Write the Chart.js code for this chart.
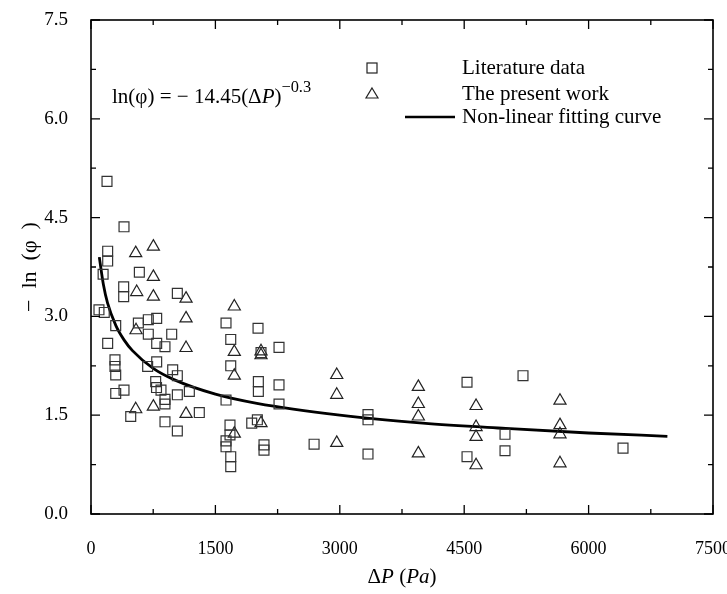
<!DOCTYPE html>
<html>
<head>
<meta charset="utf-8">
<script src="https://cdn.jsdelivr.net/npm/chart.js@4/dist/chart.umd.min.js"></script>
<style>
  html, body { margin: 0; padding: 0; background: #fff; }
  #wrap { width: 727px; height: 594px; }
</style>
</head>
<body>
<div id="wrap"><canvas id="chart" width="727" height="594"></canvas></div>
<script>
// Literature data (squares)
const litX = [193, 398, 201, 201, 146, 583, 394, 394, 1041, 96, 160, 298, 691, 792, 571, 691, 973, 792, 892, 201,
  289, 289, 298, 298, 398, 683, 792, 780, 790, 844, 892, 892, 892, 479, 1041, 985, 1041, 1041, 1186, 1306,
  1628, 1685, 1685, 1628, 1676, 1676, 1628, 1628, 1685, 1685, 1938, 2006, 2014, 2050, 2018, 2018, 2086, 2086,
  2267, 2267, 2267, 2690, 3340, 3340, 3340, 4534, 4534, 4992, 4992, 5209, 6415];
const litY = [5.05, 4.36, 3.99, 3.84, 3.64, 3.67, 3.45, 3.30, 3.35, 3.10, 3.06, 2.86, 2.95, 2.97, 2.90, 2.73, 2.73, 2.59, 2.54, 2.59,
  2.34, 2.24, 2.11, 1.83, 1.88, 2.24, 2.31, 2.01, 1.92, 1.88, 1.74, 1.67, 1.40, 1.48, 1.26, 2.19, 2.10, 1.81, 1.86, 1.54,
  2.90, 2.65, 2.25, 1.73, 1.35, 1.20, 1.11, 1.02, 0.87, 0.72, 1.38, 1.43, 2.82, 2.45, 2.01, 1.86, 1.05, 0.97,
  2.53, 1.96, 1.67, 1.06, 1.51, 1.43, 0.91, 2.00, 0.87, 1.21, 0.96, 2.10, 1.00];

// The present work (triangles)
const presX = [539, 752, 752, 551, 752, 543, 1146, 1146, 1146, 1728, 1728, 1728, 1728, 1146, 539, 752,
  2050, 2050, 2050, 2963, 2963, 2963, 3947, 3947, 3947, 3947, 4643, 4643, 4643, 4643, 5655, 5655, 5655, 5655];
const presY = [3.96, 4.06, 3.60, 3.37, 3.30, 2.79, 3.27, 2.97, 2.52, 3.15, 2.46, 2.10, 1.22, 1.52, 1.59, 1.63,
  2.47, 2.41, 1.38, 2.11, 1.81, 1.08, 1.93, 1.67, 1.48, 0.92, 1.64, 1.32, 1.17, 0.74, 1.72, 1.35, 1.21, 0.77];

// Non-linear fitting curve
const fitX = [100, 150, 200, 300, 400, 500, 750, 1000, 1500, 2000, 3000, 4000, 5000, 6000, 6950];
const fitY = [3.90, 3.48, 3.20, 2.86, 2.64, 2.48, 2.21, 2.04, 1.82, 1.68, 1.50, 1.38, 1.30, 1.23, 1.18];

// Axis ticks
const xTicks = [0, 1500, 3000, 4500, 6000, 7500];
const yTicks = [0.0, 1.5, 3.0, 4.5, 6.0, 7.5];

const serif = '"Liberation Serif", "Times New Roman", serif';

function toPoints(xs, ys) {
  return xs.map((x, i) => ({ x: x, y: ys[i] }));
}

// Draw a run of text pieces; each piece may be italic or superscript
function drawRuns(ctx, runs, x, y, size) {
  let cx = x;
  runs.forEach(r => {
    const s = r.sup ? size * 0.78 : size;
    ctx.font = (r.italic ? 'italic ' : '') + s + 'px ' + serif;
    ctx.fillText(r.t, cx, r.sup ? y - size * 0.42 : y);
    cx += ctx.measureText(r.t).width;
  });
  return cx;
}

function runsWidth(ctx, runs, size) {
  let w = 0;
  runs.forEach(r => {
    const s = r.sup ? size * 0.78 : size;
    ctx.font = (r.italic ? 'italic ' : '') + s + 'px ' + serif;
    w += ctx.measureText(r.t).width;
  });
  return w;
}

const framePlugin = {
  id: 'frame',
  afterDraw(chart) {
    const ctx = chart.ctx;
    const a = chart.chartArea;
    const xs = chart.scales.x;
    const ys = chart.scales.y;
    ctx.save();
    ctx.strokeStyle = '#000';
    ctx.fillStyle = '#000';
    ctx.lineWidth = 1.6;
    ctx.strokeRect(a.left, a.top, a.right - a.left, a.bottom - a.top);

    // inward ticks on all four sides
    ctx.lineWidth = 1.3;
    ctx.beginPath();
    for (let v = 0; v <= 7500; v += 750) {
      const px = xs.getPixelForValue(v);
      const len = (v % 1500 === 0) ? 9 : 5;
      ctx.moveTo(px, a.bottom); ctx.lineTo(px, a.bottom - len);
      ctx.moveTo(px, a.top); ctx.lineTo(px, a.top + len);
    }
    for (let k = 0; k <= 10; k++) {
      const py = ys.getPixelForValue(k * 0.75);
      const len = (k % 2 === 0) ? 9 : 5;
      ctx.moveTo(a.left, py); ctx.lineTo(a.left + len, py);
      ctx.moveTo(a.right, py); ctx.lineTo(a.right - len, py);
    }
    ctx.stroke();

    // axis titles
    ctx.textBaseline = 'middle';
    ctx.textAlign = 'left';
    const xRuns = [{ t: 'Δ' }, { t: 'P', italic: true }, { t: ' (' }, { t: 'Pa', italic: true }, { t: ')' }];
    const xw = runsWidth(ctx, xRuns, 21);
    drawRuns(ctx, xRuns, (a.left + a.right) / 2 - xw / 2, 577, 21);

    ctx.save();
    ctx.translate(30, (a.top + a.bottom) / 2);
    ctx.rotate(-Math.PI / 2);
    const yRuns = [{ t: '−  ln  (φ  )' }];
    const yw = runsWidth(ctx, yRuns, 22);
    drawRuns(ctx, yRuns, -yw / 2, 0, 22);
    ctx.restore();

    // equation annotation
    drawRuns(ctx, [{ t: 'ln(φ) = − 14.45(Δ' }, { t: 'P', italic: true }, { t: ')' }, { t: '−0.3', sup: true }], 112, 97, 21);

    // legend
    ctx.lineWidth = 1.2;
    ctx.strokeStyle = '#222';
    ctx.strokeRect(367, 63, 10, 10);
    ctx.beginPath();
    ctx.moveTo(372, 88); ctx.lineTo(378, 98); ctx.lineTo(366, 98); ctx.closePath();
    ctx.stroke();
    ctx.lineWidth = 2.5;
    ctx.strokeStyle = '#000';
    ctx.beginPath();
    ctx.moveTo(405, 117); ctx.lineTo(455, 117);
    ctx.stroke();
    ctx.font = '21px ' + serif;
    ctx.fillText('Literature data', 462, 68);
    ctx.fillText('The present work', 462, 94);
    ctx.fillText('Non-linear fitting curve', 462, 117);
    ctx.restore();
  }
};

new Chart(document.getElementById('chart'), {
  type: 'scatter',
  data: {
    datasets: [
      {
        label: 'Literature data',
        data: toPoints(litX, litY),
        pointStyle: 'rect',
        pointRadius: 7,
        backgroundColor: 'rgba(0,0,0,0)',
        borderColor: '#333',
        borderWidth: 1.2
      },
      {
        label: 'The present work',
        data: toPoints(presX, presY),
        pointStyle: 'triangle',
        pointRadius: 7,
        backgroundColor: 'rgba(0,0,0,0)',
        borderColor: '#222',
        borderWidth: 1.2
      },
      {
        label: 'Non-linear fitting curve',
        type: 'line',
        data: toPoints(fitX, fitY),
        showLine: true,
        pointRadius: 0,
        borderColor: '#000',
        borderWidth: 2.8,
        fill: false,
        cubicInterpolationMode: 'monotone'
      }
    ]
  },
  options: {
    responsive: false,
    animation: false,
    events: [],
    layout: { padding: { left: 0, right: 14, top: 20, bottom: 0 } },
    plugins: { legend: { display: false }, tooltip: { enabled: false } },
    scales: {
      x: {
        type: 'linear',
        min: 0,
        max: 7500,
        afterBuildTicks: s => { s.ticks = xTicks.map(v => ({ value: v })); },
        afterFit: s => { s.height = 80; s.paddingLeft = 0; s.paddingRight = 0; },
        grid: { display: false, drawTicks: false },
        border: { display: false },
        ticks: { color: '#000', padding: 24, font: { family: serif, size: 18 }, callback: v => String(v) }
      },
      y: {
        type: 'linear',
        min: 0,
        max: 7.5,
        afterBuildTicks: s => { s.ticks = yTicks.map(v => ({ value: v })); },
        afterFit: s => { s.width = 91; s.paddingTop = 0; s.paddingBottom = 0; },
        grid: { display: false, drawTicks: false },
        border: { display: false },
        ticks: { color: '#000', padding: 23, font: { family: serif, size: 19 }, callback: v => v.toFixed(1) }
      }
    }
  },
  plugins: [framePlugin]
});
</script>
</body>
</html>
